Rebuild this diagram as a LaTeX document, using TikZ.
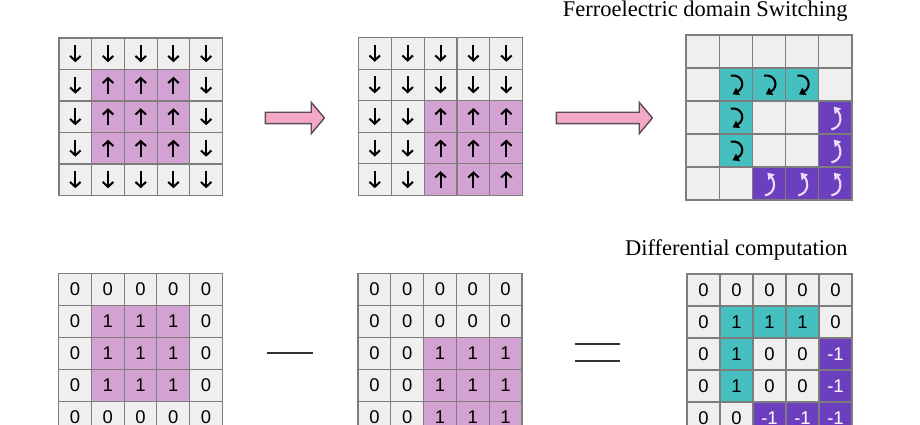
\documentclass[tikz,border=0pt]{standalone}
\usepackage{fontspec}
\setmainfont{Liberation Serif}
\setsansfont{Liberation Sans}
\usetikzlibrary{arrows.meta,shapes.arrows}

\definecolor{cellgray}{RGB}{239,239,239}
\definecolor{gridline}{RGB}{125,125,125}
\definecolor{lilaccell}{RGB}{211,162,211}
\definecolor{tealcell}{RGB}{69,191,192}
\definecolor{violetcell}{RGB}{107,63,189}
\definecolor{curlwhite}{RGB}{232,222,250}
\definecolor{arrowpink}{RGB}{245,168,196}
\definecolor{arrowedge}{RGB}{90,76,94}

\tikzset{
  cell/.style={draw=gridline, fill=cellgray, line width=0.6pt, inner sep=0pt,
    font=\sffamily\fontsize{10.5}{12}\selectfont},
  spin/.style={draw=black, line width=1.15pt, -{Straight Barb[length=2.8pt,width=6pt]}},
  curl/.style={line width=1.2pt, x=0.66cm, y=0.66cm,
    -{Triangle[length=3.6pt,width=4.6pt]}},
  cell d/.style={cell, node contents={}, path picture={
    \draw[spin] ([yshift=0.17cm]path picture bounding box.center)
      -- ([yshift=-0.17cm]path picture bounding box.center);}},
  cell u/.style={cell, fill=lilaccell, node contents={}, path picture={
    \draw[spin] ([yshift=-0.17cm]path picture bounding box.center)
      -- ([yshift=0.17cm]path picture bounding box.center);}},
  cell e/.style={cell, node contents={}},
  cell t/.style={cell, fill=tealcell, node contents={}, path picture={
    \draw[curl, draw=black, shift={(path picture bounding box.center)}]
      (-0.15,0.27) .. controls (0.22,0.32) and (0.3,-0.08) .. (-0.1,-0.3);}},
  cell p/.style={cell, fill=violetcell, node contents={}, path picture={
    \draw[curl, draw=curlwhite, shift={(path picture bounding box.center)}]
      (-0.12,-0.36) .. controls (0.2,-0.3) and (0.2,0.05) .. (-0.05,0.33);}},
  cell n0/.style={cell, node contents=0},
  cell p1/.style={cell, fill=lilaccell, node contents=1},
  cell t1/.style={cell, fill=tealcell, node contents=1},
  cell m1/.style={cell, fill=violetcell, text=white, node contents=-1},
  shiftarrow/.style={single arrow, draw=arrowedge, fill=arrowpink, line width=0.8pt,
    inner sep=0pt, inner ysep=0.1cm, single arrow head extend=0.2cm,
    single arrow tip angle=100},
  title/.style={font=\fontsize{12.8}{15}\selectfont, inner sep=0pt},
  opline/.style={line width=1.1pt, color=black!80}
}

% name, left x, top y, cell width, cell height, rows
\newcommand\drawgrid[6]{%
  \foreach \row [count=\r] in {#6} {
    \foreach \v [count=\c] in \row {
      \node (#1-\r-\c) at ({#2+(\c-0.5)*#4},{#3+(\r-0.5)*#5})
        [minimum width=#4*0.02cm, minimum height=#5*0.02cm, cell \v];
    }
  }%
}

\begin{document}
\begin{tikzpicture}[x=0.02cm, y=-0.02cm]
\useasboundingbox (0,0) rectangle (920,425);

% domain switching
\drawgrid{sa}{59}{38}{32.7}{31.5}{{d,d,d,d,d},{d,u,u,u,d},{d,u,u,u,d},{d,u,u,u,d},{d,d,d,d,d}}
\drawgrid{sb}{358.3}{37.5}{32.9}{31.6}{{d,d,d,d,d},{d,d,d,d,d},{d,d,u,u,u},{d,d,u,u,u},{d,d,u,u,u}}
\drawgrid{sc}{686}{35}{33.2}{33}{{e,e,e,e,e},{e,t,t,t,e},{e,t,e,e,p},{e,t,e,e,p},{e,e,p,p,p}}

\node[shiftarrow, minimum height=59*0.02cm] (go1) at (292.5,118) {};
\node[shiftarrow, minimum height=96*0.02cm] (go2) at (602,118) {};

\node[title, anchor=base east] (switchtitle) at (848,16.5) {Ferroelectric domain Switching};

% differential computation
\drawgrid{da}{58.5}{273.5}{32.8}{32}{{n0,n0,n0,n0,n0},{n0,p1,p1,p1,n0},{n0,p1,p1,p1,n0},{n0,p1,p1,p1,n0},{n0,n0,n0,n0,n0}}
\drawgrid{db}{358}{273.5}{32.8}{32}{{n0,n0,n0,n0,n0},{n0,n0,n0,n0,n0},{n0,n0,p1,p1,p1},{n0,n0,p1,p1,p1},{n0,n0,p1,p1,p1}}
\drawgrid{dc}{687}{274}{33}{32}{{n0,n0,n0,n0,n0},{n0,t1,t1,t1,n0},{n0,t1,n0,n0,m1},{n0,t1,n0,n0,m1},{n0,n0,m1,m1,m1}}

\draw[opline] (267,352.7) -- (313,352.7);
\draw[opline] (575,344.3) -- (620,344.3);
\draw[opline] (575,361) -- (620,361);

\node[title, anchor=base east] (difftitle) at (848,256) {Differential computation};
\end{tikzpicture}
\end{document}
